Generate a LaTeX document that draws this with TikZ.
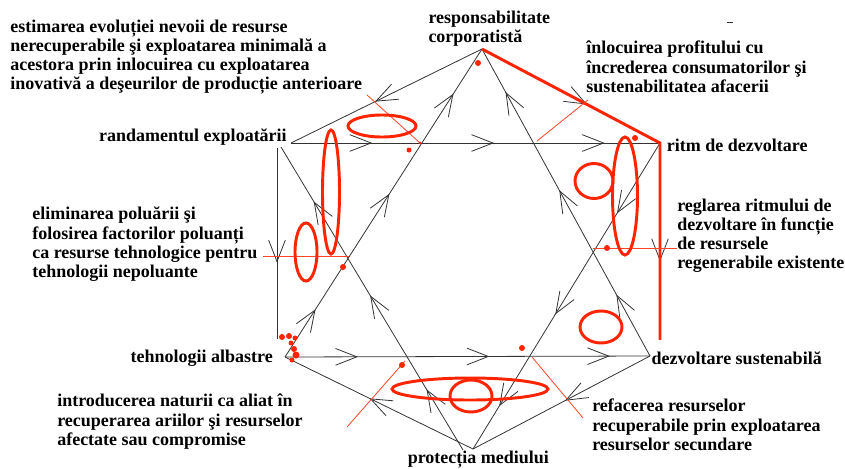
\documentclass[tikz,border=0pt]{standalone}
\usepackage{fontspec}
\setmainfont{Liberation Serif}
\usetikzlibrary{arrows.meta,positioning,decorations.markings}

\definecolor{redpen}{RGB}{255,36,0}

\tikzset{
  >={Straight Barb[length=16pt,width=12.5pt]},
  line/.style={draw=black!80, line width=0.6pt},
  arr/.style={postaction={decorate, decoration={markings, mark=at position #1 with {\arrow{>}}}}},
  lbl/.style={font=\fontsize{13.5}{14.3}\selectfont\bfseries, align=left, inner sep=0pt},
  pen/.style={draw=redpen, line width=2.2pt},
  thinpen/.style={draw=redpen!85, line width=0.6pt},
  dot/.style={fill=redpen}
}

\begin{document}
\begin{tikzpicture}[x=0.75pt, y=-0.75pt]
\useasboundingbox (0,0) rectangle (845,468);

\coordinate (T) at (482,49);
\coordinate (TL) at (291,143);
\coordinate (TLd) at (281,147);
\coordinate (R) at (660,143);
\coordinate (Rd) at (660,340);
\coordinate (L1) at (277,148);
\coordinate (L2) at (277,339);
\coordinate (BL) at (285,357);
\coordinate (BR) at (650,356);
\coordinate (B) at (473,449);
\coordinate (Bd) at (463,450);

\node[lbl, above=2pt of T, xshift=5.5pt] (resp) {responsabilitate\\corporatistă};
\node[lbl, right=5pt of R, yshift=-2pt] (ritm) {ritm de dezvoltare};
\node[lbl, left=3pt of TL, yshift=4.5pt] (rand) {randamentul exploatării};
\node[lbl, left=9pt of BL, yshift=-1pt] (tehn) {tehnologii albastre};
\node[lbl, right=1pt of BR, yshift=-1.5pt] (dezv) {dezvoltare sustenabilă};
\node[lbl, below=1pt of B, xshift=4pt] (prot) {protecția mediului};

\node[lbl, anchor=north west] (estim) at (10,20) {estimarea evoluției nevoii de resurse\\nerecuperabile şi exploatarea minimală a\\acestora prin inlocuirea cu exploatarea\\inovativă a deşeurilor de producție anterioare};
\node[lbl, anchor=north west] (inloc) at (586,41) {înlocuirea profitului cu\\încrederea consumatorilor şi\\sustenabilitatea afacerii};
\node[lbl, anchor=north west] (elim) at (32,207) {eliminarea poluării şi\\folosirea factorilor poluanți\\ca resurse tehnologice pentru\\tehnologii nepoluante};
\node[lbl, anchor=north west] (regl) at (677,199) {reglarea ritmului de\\dezvoltare în funcție\\de resursele\\regenerabile existente};
\node[lbl, anchor=north west] (intro) at (57,394) {introducerea naturii ca aliat în\\recuperarea ariilor şi resurselor\\afectate sau compromise};
\node[lbl, anchor=north west] (refac) at (592,399) {refacerea resurselor\\recuperabile prin exploatarea\\resurselor secundare};

% hexagon and star
\path[line]
  (TL) edge[arr=0.22, arr=0.55, arr=0.85] (R)
  (BL) edge[arr=0.2, arr=0.56, arr=0.89] (BR)
  (BL) edge[arr=0.155, arr=0.53, arr=0.855] (T)
  (BR) edge[arr=0.2, arr=0.54, arr=0.86] (T)
  (Bd) edge[arr=0.2, arr=0.51, arr=0.82] (TLd)
  (R) edge[arr=0.23, arr=0.56, arr=0.86] (B)
  (T) edge[arr=0.56] (TL)
  (T) edge[arr=0.59] (R)
  (L1) edge[arr=0.6] (L2)
  (R) edge[arr=0.6] (Rd)
  (B) edge[arr=0.55] (BL)
  (BR) edge[arr=0.48] (B);

\draw[line] (727,22) -- (733,22);

% red marks
\draw[pen] (T) -- (R) -- (Rd);
\draw[thinpen] (367,95) -- (420,143);
\draw[thinpen] (537,141) -- (588,100);
\draw[thinpen] (263,256) -- (349,256);
\draw[thinpen] (593,248) -- (677,248);
\draw[thinpen] (347,427) -- (405,361);
\draw[thinpen] (532,357) -- (583,418);

\draw[pen] (382,126) ellipse [x radius=34, y radius=11];
\draw[pen] (331,192) ellipse [x radius=8.5, y radius=62];
\draw[pen] (306,252) ellipse [x radius=11, y radius=29];
\draw[pen] (625,196) ellipse [x radius=12.5, y radius=59];
\draw[pen] (594,181) ellipse [x radius=19, y radius=17.5];
\draw[pen] (601,327) ellipse [x radius=21, y radius=16];
\draw[pen] (470,389) ellipse [x radius=78, y radius=11];
\draw[pen] (471,396) ellipse [x radius=21, y radius=16];

\fill[dot] (409,150) circle [radius=2.5];
\fill[dot] (420,143) circle [radius=1.5];
\fill[dot] (478,63) circle [radius=3];
\fill[dot] (635,138) circle [radius=3];
\fill[dot] (343,267) circle [radius=3];
\fill[dot] (607,248) circle [radius=3];
\fill[dot] (402,365) circle [radius=3];
\fill[dot] (522,348) circle [radius=3];
\fill[dot] (282,337) circle [radius=3];
\fill[dot] (289,336) circle [radius=3];
\fill[dot] (295,338) circle [radius=2.5];
\fill[dot] (291,343) circle [radius=2.5];
\fill[dot] (294,349) circle [radius=3];
\fill[dot] (296,355) circle [radius=3.5];
\fill[dot] (292,360) circle [radius=2.5];
\end{tikzpicture}
\end{document}
